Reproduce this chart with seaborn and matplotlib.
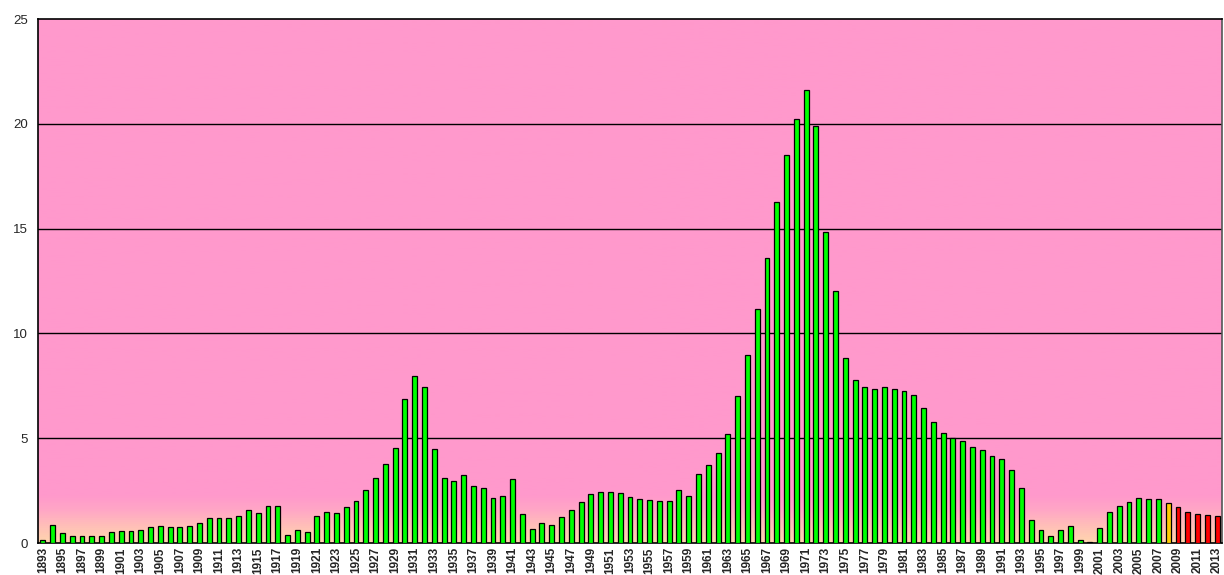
import numpy as np
import pandas as pd
import matplotlib
matplotlib.use("Agg")
import matplotlib.pyplot as plt
from matplotlib.colors import LinearSegmentedColormap
from matplotlib.ticker import MultipleLocator, FixedLocator
import seaborn as sns

# --- data ---
years = list(range(1893, 2014))
values = [
    0.14, 0.87, 0.46, 0.35, 0.35, 0.35, 0.35, 0.51, 0.56, 0.56,   # 1893-1902
    0.60, 0.76, 0.81, 0.76, 0.76, 0.81, 0.97, 1.17, 1.17, 1.17,   # 1903-1912
    1.29, 1.59, 1.43, 1.75, 1.75, 0.40, 0.60, 0.51, 1.29, 1.49,   # 1913-1922
    1.43, 1.70, 2.00, 2.54, 3.10, 3.76, 4.54, 6.87, 7.97, 7.46,   # 1923-1932
    4.49, 3.10, 2.98, 3.24, 2.71, 2.62, 2.16, 2.25, 3.03, 1.38,   # 1933-1942
    0.65, 0.97, 0.86, 1.24, 1.59, 1.95, 2.32, 2.41, 2.41, 2.37,   # 1943-1952
    2.21, 2.11, 2.06, 2.02, 2.02, 2.52, 2.25, 3.30, 3.71, 4.29,   # 1953-1962
    5.22, 7.03, 8.97, 11.16, 13.60, 16.25, 18.53, 20.24, 21.60, 19.88,  # 1963-1972
    14.85, 12.04, 8.83, 7.78, 7.44, 7.35, 7.44, 7.35, 7.24, 7.08,  # 1973-1982
    6.46, 5.79, 5.27, 5.02, 4.86, 4.59, 4.44, 4.17, 4.03, 3.50,   # 1983-1992
    2.62, 1.11, 0.60, 0.35, 0.60, 0.81, 0.14, 0.05, 0.71, 1.48,   # 1993-2002
    1.75, 1.95, 2.16, 2.11, 2.11, 1.90, 1.70, 1.48, 1.38, 1.33,   # 2003-2012
    1.29,                                                          # 2013
]
highlight_year = 2008      # amber bar
forecast_from = 2009       # red bars from here on

bar_colors = []
for y in years:
    if y == highlight_year:
        bar_colors.append("#FFCC00")
    elif y >= forecast_from:
        bar_colors.append("#FF0000")
    else:
        bar_colors.append("#00FF00")

df = pd.DataFrame({"year": [str(y) for y in years], "value": values})

sns.set_style("white")
plt.rcParams["font.family"] = ["Liberation Sans", "DejaVu Sans"]

fig = plt.figure(figsize=(12.24, 5.75), dpi=100)
ax = fig.add_axes([38 / 1224, 1 - 543 / 575, (1222 - 38) / 1224, (543 - 19) / 575])

# pink background with a peach fade near the baseline
cmap = LinearSegmentedColormap.from_list(
    "bg", [(0.0, "#FFD5AE"), (0.03, "#FFBFB8"), (0.06, "#FFA6C6"),
           (0.09, "#FF99CC"), (1.0, "#FF99CC")])
grad = np.linspace(0, 1, 500).reshape(-1, 1)
ax.imshow(grad, cmap=cmap, origin="lower", aspect="auto",
          extent=[-0.5, len(years) - 0.5, 0, 25], zorder=0)

sns.barplot(data=df, x="year", y="value", hue="year", palette=bar_colors,
            legend=False, width=0.5, edgecolor="black", linewidth=0.9,
            saturation=1, ax=ax, zorder=3)

ax.set_xlim(-0.5, len(years) - 0.5)
ax.set_ylim(0, 25)
ax.yaxis.set_major_locator(MultipleLocator(5))
for yv in [5, 10, 15, 20]:
    ax.axhline(yv, color="black", lw=1.0, zorder=2)

ax.set_xlabel("")
ax.set_ylabel("")

tick_pos = list(range(0, len(years), 2))
ax.xaxis.set_major_locator(FixedLocator(tick_pos))
ax.set_xticklabels([str(years[i]) for i in tick_pos], rotation=90,
                   fontsize=8.5, fontweight="bold")
ax.xaxis.set_minor_locator(FixedLocator([i - 0.5 for i in range(len(years) + 1)]))
ax.tick_params(axis="x", which="major", length=0, pad=3)
ax.tick_params(axis="x", which="minor", length=4, width=1, color="black", direction="out")
ax.tick_params(axis="y", which="major", length=4, width=1, color="black",
               direction="out", labelsize=9.5, pad=3)

for side in ["left", "bottom", "top", "right"]:
    ax.spines[side].set_visible(True)
    ax.spines[side].set_color("black")
    ax.spines[side].set_linewidth(1.2)
ax.spines["right"].set_color("#555555")

fig.savefig("out.png", dpi=100)
